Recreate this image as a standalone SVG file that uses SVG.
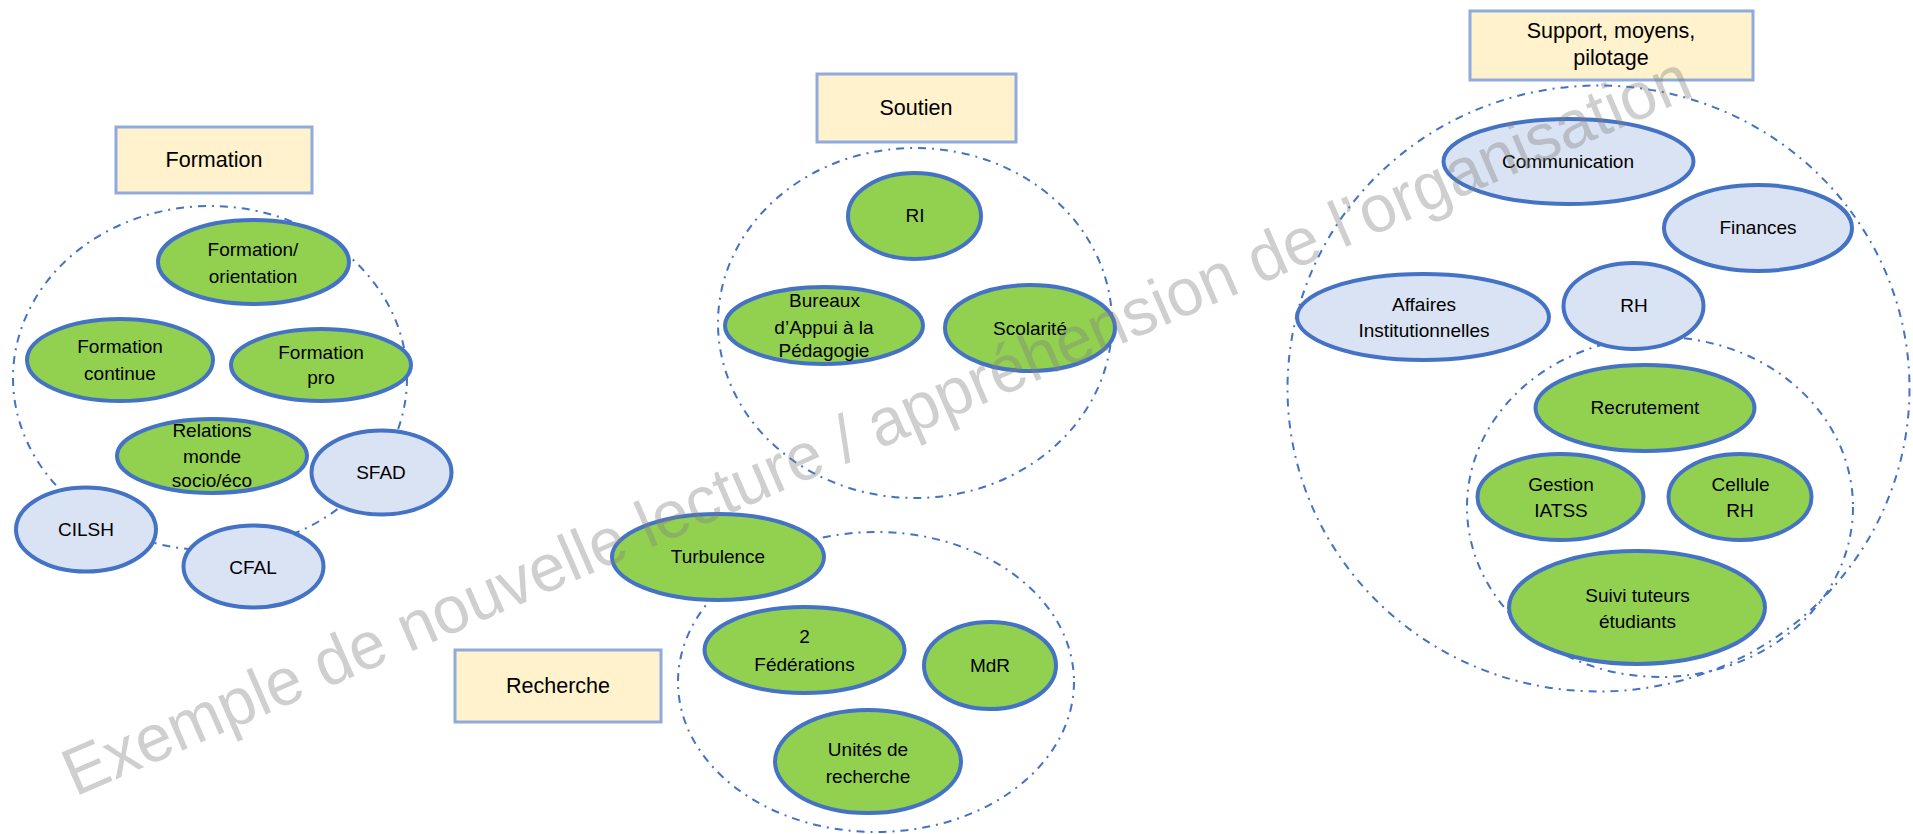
<svg xmlns="http://www.w3.org/2000/svg" width="1913" height="834" viewBox="0 0 1913 834">
<style>
text{font-family:"Liberation Sans",Arial,sans-serif;fill:#000;text-anchor:middle}
.t{font-size:19px}
.h{font-size:21.5px}
.box{fill:#FFF2CC;stroke:#8FAADC;stroke-width:3}
.g{fill:#92D050;stroke:#4472C4;stroke-width:4}
.b{fill:#DAE3F3;stroke:#4472C4;stroke-width:4}
.dd{fill:none;stroke:#4472C4;stroke-width:2;stroke-dasharray:8 6 2 6}
.wm{font-size:67px;fill:#808080;fill-opacity:0.38;text-anchor:start}
</style>
<rect width="1913" height="834" fill="#fff"/>
<g id="containers">
<ellipse class="dd" cx="210" cy="378" rx="197" ry="172"/>
<ellipse class="dd" cx="915" cy="323" rx="197" ry="175"/>
<ellipse class="dd" cx="876" cy="682" rx="198" ry="150"/>
<ellipse class="dd" cx="1598.5" cy="388.5" rx="311" ry="303"/>
<ellipse class="dd" cx="1660" cy="507" rx="193" ry="170"/>
</g>
<g id="formation-title"><rect class="box" x="116" y="127" width="196" height="66"/><text class="h" x="214" y="167">Formation</text></g>
<g id="formation-orientation"><ellipse class="g" cx="253.5" cy="262" rx="95.5" ry="42"/><text class="t" x="253" y="256">Formation/</text><text class="t" x="253" y="283">orientation</text></g>
<g id="formation-continue"><ellipse class="g" cx="120" cy="360" rx="93" ry="41"/><text class="t" x="120" y="353">Formation</text><text class="t" x="120" y="380">continue</text></g>
<g id="formation-pro"><ellipse class="g" cx="321" cy="365" rx="90" ry="36"/><text class="t" x="321" y="359">Formation</text><text class="t" x="321" y="384">pro</text></g>
<g id="relations"><ellipse class="g" cx="212" cy="456" rx="95" ry="37"/><text class="t" x="212" y="437">Relations</text><text class="t" x="212" y="463">monde</text><text class="t" x="212" y="487">socio/éco</text></g>
<g id="sfad"><ellipse class="b" cx="381.5" cy="472.5" rx="70" ry="42"/><text class="t" x="381" y="479">SFAD</text></g>
<g id="cilsh"><ellipse class="b" cx="86" cy="529.5" rx="70" ry="42"/><text class="t" x="86" y="536">CILSH</text></g>
<g id="cfal"><ellipse class="b" cx="253.5" cy="566.5" rx="70" ry="41"/><text class="t" x="253" y="574">CFAL</text></g>

<g id="soutien-title"><rect class="box" x="817" y="74" width="199" height="68"/><text class="h" x="916" y="115">Soutien</text></g>
<g id="ri"><ellipse class="g" cx="914.5" cy="216" rx="66.5" ry="43"/><text class="t" x="915" y="222">RI</text></g>
<g id="bureaux"><ellipse class="g" cx="824" cy="325.5" rx="99" ry="38.5"/><text class="t" x="824.5" y="307">Bureaux</text><text class="t" x="824" y="334">d’Appui à la</text><text class="t" x="824" y="357">Pédagogie</text></g>
<g id="scolarite"><ellipse class="g" cx="1030" cy="328" rx="85" ry="43"/><text class="t" x="1030" y="335">Scolarité</text></g>

<g id="recherche-title"><rect class="box" x="455" y="650" width="206" height="72"/><text class="h" x="558" y="693">Recherche</text></g>
<g id="turbulence"><ellipse class="g" cx="718" cy="557" rx="106" ry="43"/><text class="t" x="718" y="563">Turbulence</text></g>
<g id="federations"><ellipse class="g" cx="804.5" cy="650" rx="100" ry="43"/><text class="t" x="804.5" y="643">2</text><text class="t" x="804.5" y="671">Fédérations</text></g>
<g id="mdr"><ellipse class="g" cx="990" cy="665.5" rx="66" ry="43.5"/><text class="t" x="990" y="672">MdR</text></g>
<g id="unites"><ellipse class="g" cx="868" cy="761.5" rx="93" ry="51.5"/><text class="t" x="868" y="756">Unités de</text><text class="t" x="868" y="783">recherche</text></g>

<g id="support-title"><rect class="box" x="1470" y="11" width="283" height="69"/><text class="h" x="1611" y="38">Support, moyens,</text><text class="h" x="1611" y="65">pilotage</text></g>
<g id="communication"><ellipse class="b" cx="1568.5" cy="161.5" rx="125" ry="42.5"/><text class="t" x="1568" y="168">Communication</text></g>
<g id="finances"><ellipse class="b" cx="1758" cy="228" rx="94" ry="43"/><text class="t" x="1758" y="234">Finances</text></g>
<g id="affaires"><ellipse class="b" cx="1423" cy="317" rx="126" ry="43"/><text class="t" x="1424" y="311">Affaires</text><text class="t" x="1424" y="337">Institutionnelles</text></g>
<g id="rh"><ellipse class="b" cx="1633.5" cy="306" rx="70" ry="43"/><text class="t" x="1634" y="312">RH</text></g>
<g id="recrutement"><ellipse class="g" cx="1645" cy="408" rx="109.5" ry="43"/><text class="t" x="1645" y="414">Recrutement</text></g>
<g id="gestion-iatss"><ellipse class="g" cx="1560.5" cy="497" rx="83" ry="43"/><text class="t" x="1561" y="491">Gestion</text><text class="t" x="1561" y="517">IATSS</text></g>
<g id="cellule-rh"><ellipse class="g" cx="1740" cy="497" rx="71.5" ry="43"/><text class="t" x="1740.5" y="491">Cellule</text><text class="t" x="1740" y="517">RH</text></g>
<g id="suivi-tuteurs"><ellipse class="g" cx="1637" cy="607.5" rx="128" ry="56.5"/><text class="t" x="1637.5" y="602">Suivi tuteurs</text><text class="t" x="1637.5" y="628">étudiants</text></g>

<g id="watermark"><text class="wm" transform="translate(75,797) rotate(-23.4)" x="0" y="0" textLength="1766" lengthAdjust="spacingAndGlyphs">Exemple de nouvelle lecture / appréhension de l’organisation</text></g>
</svg>
